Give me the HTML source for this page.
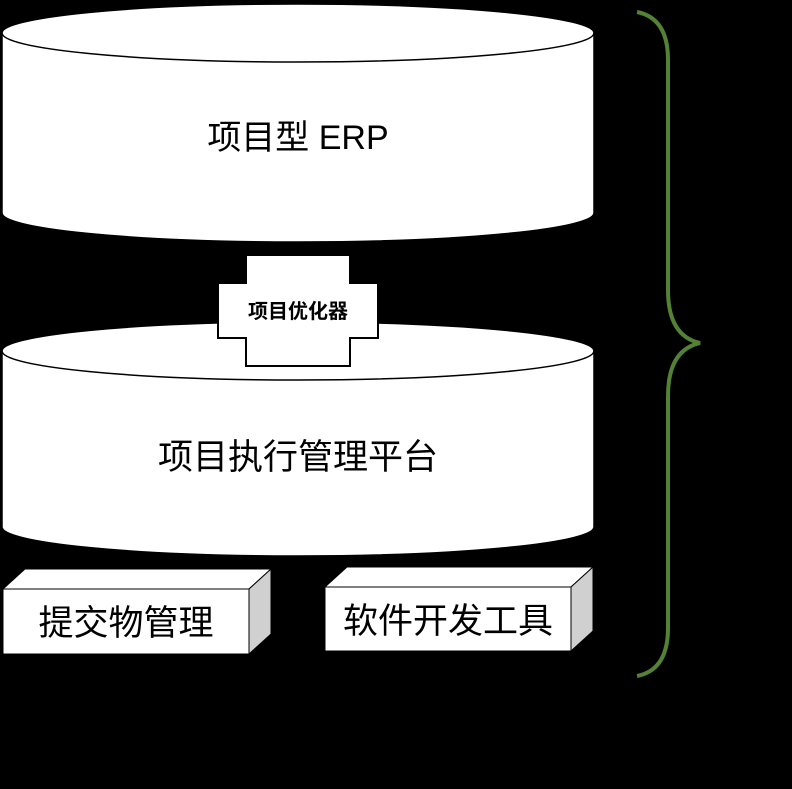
<!DOCTYPE html>
<html><head><meta charset="utf-8"><style>
body{margin:0;background:#000;width:792px;height:784px;overflow:hidden}
text{font-family:"Liberation Sans","Noto Sans CJK SC",sans-serif}
</style></head><body>
<svg width="792" height="784" viewBox="0 0 792 784" xmlns="http://www.w3.org/2000/svg">
<rect width="792" height="784" fill="#000"/>
<path d="M2,33 A296,29 0 0 1 594,33 L594,213 A296,29 0 0 1 2,213 Z" fill="#fff" stroke="#000" stroke-width="1.5"/>
<path d="M2,33 A296,29 0 0 0 594,33" fill="none" stroke="#000" stroke-width="1.5"/>
<text x="298" y="149" font-size="34" text-anchor="middle">项目型 ERP</text>
<path d="M2,351 A296,29 0 0 1 594,351 L594,527 A296,29 0 0 1 2,527 Z" fill="#fff" stroke="#000" stroke-width="1.5"/>
<path d="M2,351 A296,29 0 0 0 594,351" fill="none" stroke="#000" stroke-width="1.5"/>
<text x="298" y="469" font-size="35" text-anchor="middle">项目执行管理平台</text>
<path d="M246,255 H350 V283 H378 V338 H350 V366 H246 V338 H218 V283 H246 Z" fill="#fff" stroke="#000" stroke-width="2"/>
<text x="298" y="318" font-size="20" font-weight="bold" text-anchor="middle">项目优化器</text>
<polygon points="3,589 25,569 271,569 249,589" fill="#fff" stroke="#000" stroke-width="1"/>
<polygon points="249,589 271,569 271,634 249,654" fill="#d0d0d0" stroke="#000" stroke-width="1"/>
<rect x="3" y="589" width="246" height="65" fill="#fff" stroke="#000" stroke-width="1"/>
<text x="126" y="635" font-size="35" text-anchor="middle">提交物管理</text>
<polygon points="325,587 347,567 593,567 571,587" fill="#fff" stroke="#000" stroke-width="1"/>
<polygon points="571,587 593,567 593,631 571,651" fill="#d0d0d0" stroke="#000" stroke-width="1"/>
<rect x="325" y="587" width="246" height="64" fill="#fff" stroke="#000" stroke-width="1"/>
<text x="448" y="633" font-size="35" text-anchor="middle">软件开发工具</text>
<path d="M637,12 Q668,18 668,60 L668,290 Q668,336 700,343 Q668,350 668,396 L668,628 Q668,670 637,676" fill="none" stroke="#548235" stroke-width="4"/>
</svg>
</body></html>
